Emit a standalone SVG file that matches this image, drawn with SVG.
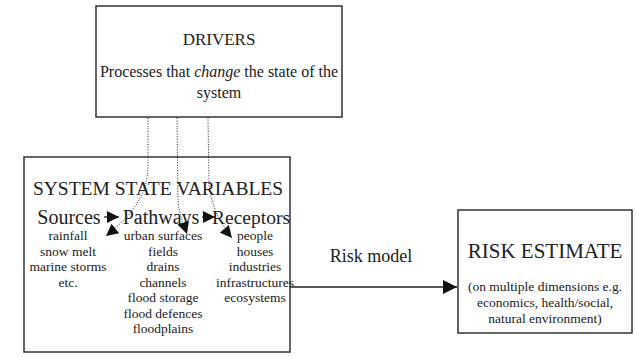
<svg xmlns="http://www.w3.org/2000/svg" width="636" height="356" viewBox="0 0 636 356" font-family="'Liberation Serif', 'Times New Roman', 'DejaVu Serif', serif">
<defs>
<style>
text{font-family:'Liberation Serif','Times New Roman','DejaVu Serif',serif;fill:#222;text-anchor:middle}
.box{fill:#fff;stroke:#333;stroke-width:1.5}
.big{font-size:18px}
.mid{font-size:20px}
.sm{font-size:13.5px}
.dot{fill:none;stroke:#222;stroke-width:1;stroke-dasharray:1,1.6}
.solid{fill:none;stroke:#222;stroke-width:1.3}
</style>
<marker id="ah" viewBox="0 0 10 10" refX="10" refY="5" markerWidth="12" markerHeight="12" markerUnits="userSpaceOnUse" orient="auto"><path d="M0,0L10,5L0,10Z" fill="#111"/></marker>
<marker id="ah2" viewBox="0 0 10 10" refX="10" refY="5" markerWidth="14" markerHeight="14" markerUnits="userSpaceOnUse" orient="auto"><path d="M0,0L10,5L0,10Z" fill="#111"/></marker>
</defs>
<g id="drivers">
<rect class="box" x="96" y="6" width="246" height="111"/>
<text x="219" y="45" style="font-size:17px">DRIVERS</text>
<text x="219" y="77" style="font-size:16px">Processes that <tspan font-style="italic">change</tspan> the state of the</text>
<text x="219" y="98" style="font-size:16px">system</text>
</g>
<g id="system">
<rect class="box" x="24" y="157" width="266" height="195"/>
<text class="mid" x="158" y="195" style="font-size:19.5px">SYSTEM STATE VARIABLES</text>
<text class="mid" x="69" y="224">Sources</text>
<text class="mid" x="161" y="224">Pathways</text>
<text class="mid" x="251" y="224" style="font-size:19.5px">Receptors</text>
<g class="sm">
<text x="68" y="240">rainfall</text>
<text x="68" y="255.5">snow melt</text>
<text x="68" y="271">marine storms</text>
<text x="68" y="286.5">etc.</text>
<text x="163" y="240">urban surfaces</text>
<text x="163" y="255.5">fields</text>
<text x="163" y="271">drains</text>
<text x="163" y="286.5">channels</text>
<text x="163" y="302">flood storage</text>
<text x="163" y="317.5">flood defences</text>
<text x="163" y="333">floodplains</text>
<text x="255" y="240">people</text>
<text x="255" y="255.5">houses</text>
<text x="255" y="271">industries</text>
<text x="255" y="286.5">infrastructures</text>
<text x="255" y="302">ecosystems</text>
</g>
</g>
<g id="risk">
<rect class="box" x="458" y="210" width="174" height="123"/>
<text x="545" y="258" style="font-size:21px">RISK ESTIMATE</text>
<g class="sm">
<text x="545" y="291">(on multiple dimensions e.g.</text>
<text x="545" y="307">economics, health/social,</text>
<text x="545" y="323">natural environment)</text>
</g>
</g>
<g id="connectors">
<path class="dot" d="M148,118 L148,165 C148,195 132,215 106,236" marker-end="url(#ah)"/>
<path class="dot" d="M177,118 L178,200 C179,215 184,225 187,234" marker-end="url(#ah)"/>
<path class="dot" d="M208,118 L209,185 C211,205 221,225 232,238" marker-end="url(#ah)"/>
<path class="solid" d="M104,217 L119,217" marker-end="url(#ah)"/>
<path class="solid" d="M202,217 L215,217" marker-end="url(#ah)"/>
<path class="solid" d="M290,287 L457,287" marker-end="url(#ah2)"/>
<text class="big" x="371" y="262">Risk model</text>
</g>
</svg>
